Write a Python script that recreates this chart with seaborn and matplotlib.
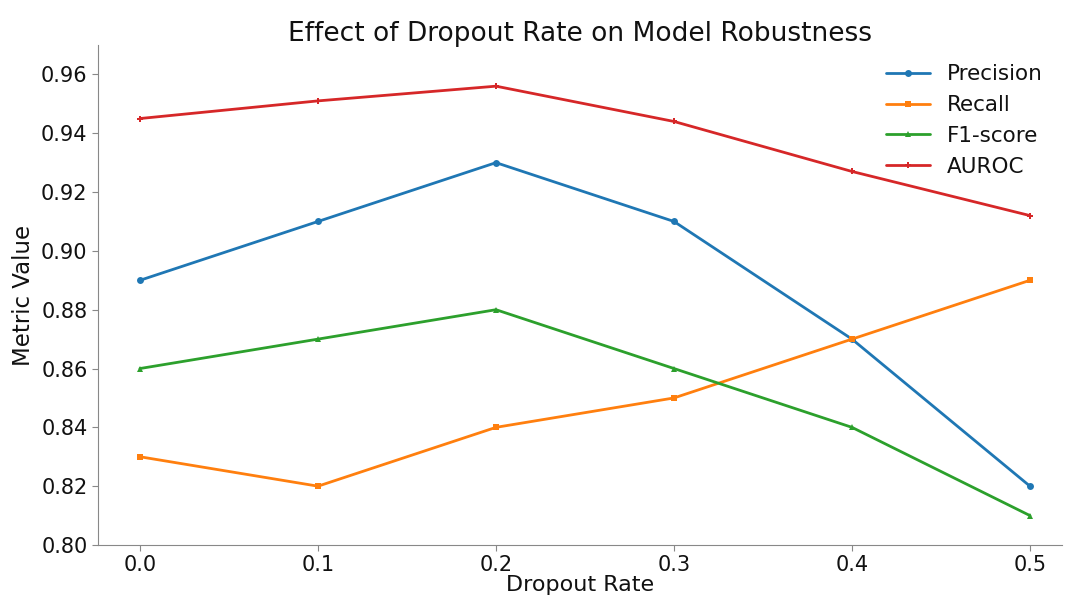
import matplotlib
matplotlib.use("Agg")
import matplotlib.pyplot as plt
import seaborn as sns
import pandas as pd

dropout = [0.0, 0.1, 0.2, 0.3, 0.4, 0.5]
precision = [0.89, 0.91, 0.93, 0.91, 0.87, 0.82]
recall = [0.83, 0.82, 0.84, 0.85, 0.87, 0.89]
f1 = [0.86, 0.87, 0.88, 0.86, 0.84, 0.81]
auroc = [0.945, 0.951, 0.956, 0.944, 0.927, 0.912]
series_names = ["Precision", "Recall", "F1-score", "AUROC"]

sns.set_style("white")
plt.rcParams['font.family'] = ['DejaVu Sans']
plt.rcParams['text.color'] = '#111111'
plt.rcParams['axes.labelcolor'] = '#111111'
plt.rcParams['xtick.color'] = '#111111'
plt.rcParams['ytick.color'] = '#111111'

df = pd.DataFrame({
    "Dropout Rate": dropout * 4,
    "Metric Value": precision + recall + f1 + auroc,
    "Metric": sum([[n] * len(dropout) for n in series_names], []),
})

fig = plt.figure(figsize=(10.67, 6.01), dpi=100)
ax = fig.add_axes([98 / 1067, 1 - 545 / 601, (1062 - 98) / 1067, (545 - 45) / 601])

palette = ["#1f77b4", "#ff7f0e", "#2ca02c", "#d62728"]
markers = ["o", "s", "^", "P"]
sns.lineplot(data=df, x="Dropout Rate", y="Metric Value", hue="Metric",
             style="Metric", markers=markers, dashes=False, palette=palette,
             linewidth=2, markersize=5, markeredgewidth=0, ax=ax)

ax.set_xlim(-0.0236, 0.518)
ax.set_ylim(0.80, 0.97)
ax.set_xticks(dropout)
ax.set_xticklabels([f"{v:.1f}" for v in dropout])
ax.set_yticks([0.80, 0.82, 0.84, 0.86, 0.88, 0.90, 0.92, 0.94, 0.96])
ax.tick_params(axis="both", labelsize=15, length=4, color="#888888", left=True, bottom=True)
ax.set_xlabel("Dropout Rate", fontsize=16, labelpad=0)
ax.set_ylabel("Metric Value", fontsize=16.5)
ax.set_title("Effect of Dropout Rate on Model Robustness", fontsize=19, pad=3)
for s in ["top", "right"]:
    ax.spines[s].set_visible(False)
for s in ["left", "bottom"]:
    ax.spines[s].set_color("#888888")

leg = ax.legend(loc="upper right", frameon=False, fontsize=15.5, title=None,
                labelspacing=0.5, bbox_to_anchor=(1.0, 1.0))

fig.savefig("out.png", dpi=100)
